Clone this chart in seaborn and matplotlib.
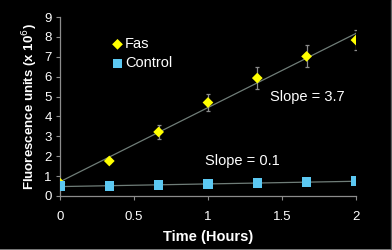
import matplotlib
matplotlib.use("Agg")
import matplotlib.pyplot as plt
import seaborn as sns
import numpy as np
import pandas as pd

# data
hours = [0, 1/3, 2/3, 1, 4/3, 5/3, 2]
fas = [0.65, 1.76, 3.22, 4.70, 5.93, 7.02, 7.84]
fas_err = [0.05, 0.12, 0.35, 0.45, 0.55, 0.55, 0.5]
control = [0.50, 0.50, 0.55, 0.60, 0.65, 0.70, 0.75]
control_err = [0.03, 0.03, 0.03, 0.03, 0.03, 0.03, 0.03]

df = pd.DataFrame({"hours": hours, "Fas": fas, "Control": control})

sns.set_style("dark")
plt.rcParams['font.family'] = ['Liberation Sans', 'DejaVu Sans']

fig = plt.figure(figsize=(3.92, 2.5), dpi=100, facecolor='black')
ax = fig.add_axes([0.153, 0.216, 0.755, 0.716])
ax.set_facecolor('black')

grey = '#8c8c8c'
line_col = '#6f7d78'
fas_col = '#ffff00'
ctl_col = '#5cc8f2'

# linear trend lines
xs = np.array([0, 2])
for col in ["Fas", "Control"]:
    k, b = np.polyfit(df["hours"], df[col], 1)
    ax.plot(xs, k * xs + b, color=line_col, lw=0.9, zorder=1)

ax.errorbar(df["hours"], df["Fas"], yerr=fas_err, fmt='none', ecolor=grey,
            elinewidth=0.9, capsize=1.5, capthick=0.9, zorder=2)
sns.scatterplot(data=df, x="hours", y="Fas", marker='D', s=30, color=fas_col,
                edgecolor='none', ax=ax, zorder=3, label='Fas')
sns.scatterplot(data=df, x="hours", y="Control", marker='s', s=45, color=ctl_col,
                edgecolor='none', ax=ax, zorder=3, label='Control')

ax.set_xlim(0, 2)
ax.set_ylim(0, 9)
ax.set_xticks([0, 0.5, 1, 1.5, 2])
ax.set_xticklabels(['0', '0.5', '1', '1.5', '2'])
ax.set_yticks(range(0, 10))
ax.tick_params(colors=grey, labelcolor='white', labelsize=9.5, length=3, width=0.8,
               direction='out', bottom=True, left=True)
ax.tick_params(axis='x', pad=8)
ax.tick_params(axis='y', pad=3)
for side in ['top', 'right']:
    ax.spines[side].set_visible(False)
for side in ['left', 'bottom']:
    ax.spines[side].set_color(grey)
    ax.spines[side].set_linewidth(0.9)
ax.grid(False)

ax.set_xlabel('Time (Hours)', color='white', fontsize=10.5, fontweight='bold', labelpad=5)
ax.set_ylabel('Fluorescence units (x 10$^6$)', color='white', fontsize=9.5,
              fontweight='bold', labelpad=3)

ax.text(1.42, 5.0, 'Slope = 3.7', color='white', fontsize=10.5, va='center')
ax.text(0.98, 1.76, 'Slope = 0.1', color='white', fontsize=10.5, va='center')

leg = ax.legend(loc='upper left', bbox_to_anchor=(0.15, 0.92), frameon=False,
                fontsize=10.5, handletextpad=0.0, borderaxespad=0, labelspacing=0.35,
                handlelength=1.0)
for t in leg.get_texts():
    t.set_color('white')

# thin grey frame on bottom and right edges
fig.add_artist(plt.Line2D([0, 1], [0.002, 0.002], color='#909090', lw=1.2, transform=fig.transFigure))
fig.add_artist(plt.Line2D([0.998, 0.998], [0, 1], color='#606060', lw=1.0, transform=fig.transFigure))

fig.savefig('out.png', dpi=100, facecolor='black')
